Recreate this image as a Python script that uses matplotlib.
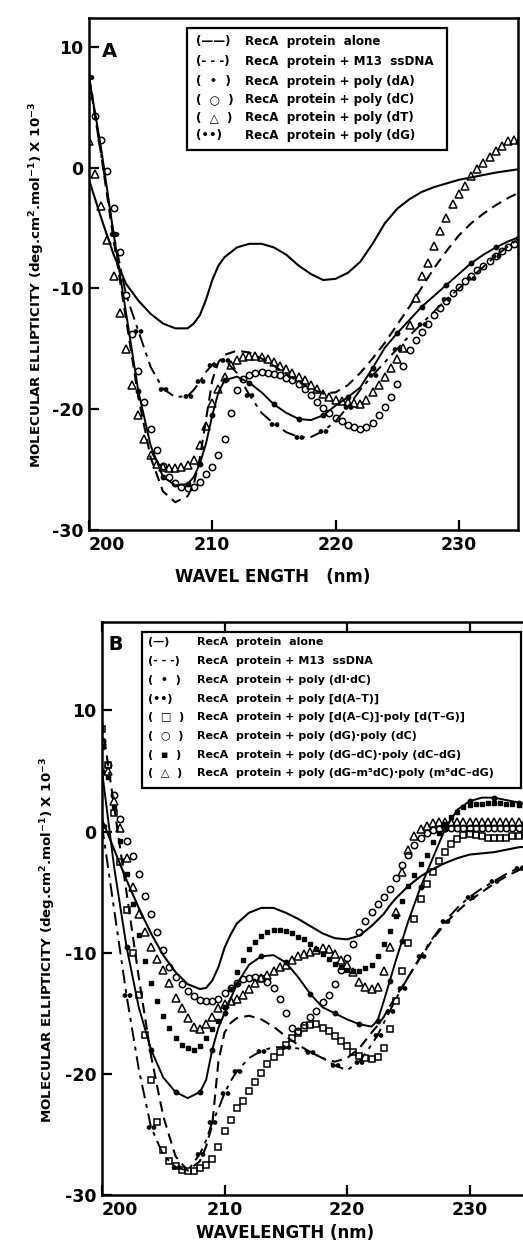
import numpy as np
import matplotlib
matplotlib.use('Agg')
import matplotlib.pyplot as plt
from matplotlib.path import Path
from matplotlib.patches import Rectangle

plt.rcParams['axes.unicode_minus'] = False
plt.rcParams['font.family'] = ['DejaVu Sans']
plt.rcParams['mathtext.fontset'] = 'dejavusans'

# ---------------- Panel A data (wavelength nm, ellipticity x 1e-3) ----------------
A_WL = [200, 201, 202, 203, 204, 205, 206, 207, 208, 208.5, 209, 209.5, 210, 210.5, 211,
        212, 213, 214, 215, 216, 217, 218, 219, 220, 221, 222, 223, 224, 225, 226, 227,
        228, 229, 230, 231, 232, 233, 234, 235]
A_alone = [-1.0, -4.2, -7.2, -9.6, -11.0, -12.1, -12.9, -13.3, -13.3, -12.9, -12.2, -10.9, -9.3, -8.1, -7.4,
           -6.6, -6.3, -6.3, -6.6, -7.2, -8.1, -8.8, -9.3, -9.2, -8.7, -7.8, -6.3, -4.6, -3.4, -2.6, -2.0,
           -1.6, -1.3, -1.0, -0.8, -0.6, -0.4, -0.25, -0.1]
A_m13 = [7.5, 1.0, -6.0, -12.5, -19.0, -24.0, -26.8, -27.7, -27.2, -26.2, -24.0, -20.8, -17.6, -16.1, -15.5,
         -15.15, -15.3, -15.8, -16.4, -17.1, -17.7, -18.3, -18.7, -18.6, -18.0, -17.0, -15.8, -14.5, -13.0, -11.5, -9.9,
         -8.3, -6.9, -5.6, -4.6, -3.8, -3.1, -2.5, -2.0]
A_dA = [7.5, 1.5, -5.5, -12.0, -18.5, -23.0, -25.6, -26.3, -26.2, -25.6, -24.5, -22.8, -20.5, -18.6, -17.6,
        -17.3, -17.8, -18.6, -19.6, -20.3, -20.8, -20.9, -20.5, -19.7, -19.0, -18.2, -16.6, -14.9, -13.7, -12.6, -11.5,
        -10.6, -9.7, -8.8, -7.9, -7.2, -6.6, -6.1, -5.7]
A_dG = [7.5, 1.0, -5.5, -10.5, -13.5, -16.5, -18.3, -19.0, -18.9, -18.4, -17.7, -16.9, -16.3, -15.9, -15.9,
        -17.0, -18.8, -20.3, -21.2, -21.9, -22.3, -22.3, -21.8, -21.0, -19.8, -18.4, -17.2, -16.1, -15.0, -13.9, -12.9,
        -11.9, -10.9, -10.0, -9.1, -8.2, -7.3, -6.5, -5.8]

# marker series, sampled every 0.5 nm from 200 to 235
WL_HALF = np.arange(200, 235.01, 0.5)
A_dC = [6.0, 4.3, 2.3, -0.3, -3.3, -7.0, -10.5, -13.8, -16.8, -19.4, -21.6, -23.4, -24.7, -25.6, -26.1, -26.4,
        -26.5, -26.4, -26.0, -25.4, -24.8, -23.8, -22.5, -20.3, -18.4, -17.5, -17.2, -17.0, -16.9, -17.0, -17.1, -17.2,
        -17.4, -17.6, -17.9, -18.3, -18.8, -19.4, -19.9, -20.3, -20.7, -21.0, -21.3, -21.5, -21.6, -21.5, -21.1, -20.5,
        -19.8, -19.0, -17.9, -16.4, -15.1, -14.3, -13.6, -12.9, -12.2, -11.6, -11.0, -10.4, -9.9, -9.4, -9.0, -8.5,
        -8.1, -7.7, -7.3, -6.9, -6.6, -6.3, -6.0]
A_dT = [2.2, -0.5, -3.2, -6.0, -9.0, -12.0, -15.0, -18.0, -20.5, -22.5, -23.8, -24.5, -24.8, -24.9, -24.9, -24.8,
        -24.6, -24.2, -23.0, -21.4, -19.5, -18.3, -17.3, -16.3, -15.9, -15.7, -15.6, -15.6, -15.7, -15.8, -16.1, -16.4,
        -16.7, -17.0, -17.3, -17.6, -18.0, -18.3, -18.7, -19.0, -19.2, -19.3, -19.4, -19.5, -19.6, -19.2, -18.6, -18.0,
        -17.3, -16.6, -15.8, -14.9, -13.0, -10.8, -9.0, -7.9, -6.5, -5.2, -4.2, -3.0, -2.2, -1.5, -0.7, -0.1,
        0.4, 0.9, 1.4, 1.8, 2.2, 2.3, 2.4]

# ---------------- Panel B data ----------------
B_WL = [200, 201, 202, 203, 204, 205, 206, 207, 208, 208.5, 209, 209.5, 210, 210.5, 211,
        212, 213, 214, 215, 216, 217, 218, 219, 220, 221, 222, 222.5, 223, 223.5, 224, 224.5,
        225, 226, 227, 228, 229, 230, 231, 232, 233, 234, 235]
B_alone = [1.0, -1.5, -4.0, -6.3, -8.4, -10.2, -11.6, -12.6, -13.0, -12.9, -12.3, -11.2, -9.6, -8.5, -7.6,
           -6.7, -6.3, -6.3, -6.7, -7.2, -7.8, -8.4, -8.8, -8.9, -8.6, -7.8, -7.3, -6.8, -6.1, -5.5, -5.0,
           -4.5, -3.7, -3.1, -2.6, -2.2, -1.9, -1.8, -1.7, -1.5, -1.3, -1.2]
B_m13 = [9.0, 2.0, -5.0, -12.0, -18.5, -23.5, -26.8, -28.0, -27.2, -26.0, -24.2, -19.0, -16.6, -15.8, -15.4,
         -15.2, -15.5, -16.1, -16.9, -17.6, -18.2, -18.7, -19.0, -18.7, -17.9, -16.6, -16.0, -15.3, -14.4, -13.6, -12.8,
         -12.0, -10.4, -8.9, -7.6, -6.6, -5.7, -5.0, -4.3, -3.7, -3.2, -2.7]
B_dIdC = [5.0, -3.0, -9.5, -14.5, -18.0, -20.3, -21.5, -22.0, -21.5, -20.5, -18.0, -16.2, -15.0, -13.8, -12.6,
          -11.0, -10.3, -10.2, -10.8, -12.0, -13.4, -14.5, -15.0, -15.5, -15.9, -16.1, -15.6, -14.0, -12.3, -10.6, -9.0,
          -7.4, -4.6, -2.2, 0.2, 1.8, 2.5, 2.8, 2.8, 2.6, 2.4, 2.2]
B_dAT = [0.5, -6.5, -13.5, -19.6, -24.4, -26.7, -27.7, -28.0, -26.6, -25.5, -24.0, -22.9, -21.6, -20.6, -19.8,
         -18.7, -18.1, -17.8, -17.8, -17.9, -18.2, -18.7, -19.3, -19.7, -19.0, -17.6, -16.8, -15.8, -14.8, -13.8, -12.9,
         -12.0, -10.3, -8.8, -7.4, -6.3, -5.4, -4.7, -4.1, -3.5, -3.0, -2.6]

B_ACTG = [8.5, 5.5, 1.5, -2.5, -6.5, -10.0, -13.5, -16.8, -20.5, -24.0, -26.3, -27.2, -27.6, -27.9, -28.0, -28.0,
          -27.8, -27.5, -27.0, -26.0, -24.7, -23.8, -22.8, -22.2, -21.4, -20.7, -19.9, -19.2, -18.6, -18.2, -17.6, -17.0,
          -16.6, -16.2, -16.0, -15.9, -16.2, -16.5, -16.9, -17.3, -17.7, -18.2, -18.5, -18.7, -18.8, -18.6, -17.9, -16.3,
          -14.0, -11.5, -9.2, -7.2, -5.6, -4.3, -3.3, -2.4, -1.7, -1.0, -0.6, -0.3, -0.2, -0.3, -0.4, -0.5,
          -0.5, -0.5, -0.5, -0.4, -0.4, -0.3, -0.3]
B_dGdC = [7.5, 5.5, 3.0, 1.0, -0.8, -2.0, -3.5, -5.3, -6.8, -8.3, -9.8, -11.2, -12.0, -12.6, -13.2, -13.6,
          -13.9, -14.0, -14.0, -13.8, -13.3, -12.9, -12.5, -12.2, -12.1, -12.0, -12.1, -12.4, -12.9, -13.8, -15.0, -16.2,
          -16.5, -16.0, -15.3, -14.8, -14.1, -13.5, -12.6, -11.4, -10.4, -9.3, -8.3, -7.4, -6.6, -6.0, -5.4, -4.7,
          -3.8, -2.8, -1.9, -1.1, -0.5, -0.1, 0.1, 0.2, 0.3, 0.3, 0.3, 0.3, 0.3, 0.3, 0.3, 0.3,
          0.3, 0.3, 0.3, 0.3, 0.3, 0.3, 0.3]
B_alt = [7.0, 4.5, 2.0, -0.8, -3.5, -6.0, -8.5, -10.7, -12.5, -14.0, -15.2, -16.2, -17.0, -17.6, -17.9, -18.0,
         -17.7, -17.0, -16.3, -15.6, -14.5, -13.0, -11.6, -10.6, -9.7, -9.1, -8.6, -8.3, -8.1, -8.1, -8.2, -8.4,
         -8.7, -8.9, -9.3, -9.7, -10.1, -10.5, -10.9, -11.2, -11.4, -11.5, -11.5, -11.3, -11.0, -10.3, -9.3, -8.2,
         -7.0, -5.7, -4.5, -3.6, -2.7, -1.9, -0.9, -0.1, 0.6, 1.2, 1.6, 2.0, 2.2, 2.3, 2.3, 2.4,
         2.4, 2.4, 2.3, 2.3, 2.2, 2.1, 2.0]
B_m5 = [7.5, 5.0, 2.5, 0.3, -2.2, -4.6, -6.8, -8.3, -9.5, -10.5, -11.4, -12.5, -13.7, -14.6, -15.4, -16.1,
        -16.3, -15.9, -15.3, -14.6, -14.2, -14.0, -13.8, -13.5, -13.0, -12.5, -12.1, -11.8, -11.5, -11.2, -11.0, -10.6,
        -10.3, -10.1, -9.9, -9.8, -9.6, -9.7, -10.1, -10.6, -11.0, -11.6, -12.4, -12.8, -13.0, -12.8, -11.5, -9.5,
        -6.6, -3.3, -1.5, -0.4, 0.2, 0.5, 0.7, 0.8, 0.8, 0.8, 0.8, 0.8, 0.8, 0.8, 0.8, 0.8,
        0.8, 0.8, 0.8, 0.8, 0.8, 0.8, 0.8]

A_legend_sym = ['(\u2014\u2014)', '(- - -)', '(  \u2022  )', '(  \u25cb  )', '(  \u25b3  )', '(\u2022\u2022)']
A_legend_txt = ['RecA  protein  alone', 'RecA  protein + M13  ssDNA', 'RecA  protein + poly (dA)',
                'RecA  protein + poly (dC)', 'RecA  protein + poly (dT)', 'RecA  protein + poly (dG)']
B_legend_sym = ['(\u2014)', '(- - -)', '(  \u2022  )', '(\u2022\u2022)', '(  \u25a1  )', '(  \u25cb  )',
                '(  \u25aa  )', '(  \u25b3  )']
B_legend_txt = ['RecA  protein  alone', 'RecA  protein + M13  ssDNA', 'RecA  protein + poly (dI\u00b7dC)',
                'RecA  protein + poly [d(A\u2013T)]', 'RecA  protein + poly [d(A\u2013C)]\u00b7poly [d(T\u2013G)]',
                'RecA  protein + poly (dG)\u00b7poly (dC)', 'RecA  protein + poly (dG\u2013dC)\u00b7poly (dC\u2013dG)',
                'RecA  protein + poly (dG\u2013m\u2075dC)\u00b7poly (m\u2075dC\u2013dG)']

W, H = 523, 1245
fig = plt.figure(figsize=(W / 100, H / 100), dpi=100)


def fx(px):
    return px / W


def fy(py):
    return 1 - py / H


# two dots side by side, for the (..) series
DDOT = Path.make_compound_path(Path.circle((-1.2, 0), 0.8), Path.circle((1.2, 0), 0.8))
DASH = (0, (5, 3))
DASHDOT = (0, (7, 3, 2, 3))


def style_axes(ax, xlim, ylim):
    ax.set_xlim(*xlim)
    ax.set_ylim(*ylim)
    ax.set_xticks([200, 210, 220, 230])
    ax.set_yticks([10, 0, -10, -20, -30])
    ax.tick_params(direction='in', length=7, width=1.6, labelsize=12.5, pad=4)
    for lab in ax.get_xticklabels() + ax.get_yticklabels():
        lab.set_fontweight('bold')
    # first x label sits right of the corner, as in the print
    ax.xaxis.get_major_ticks()[0].label1.set_horizontalalignment('left')
    for sp in ax.spines.values():
        sp.set_linewidth(1.8)


def legend_box(x0, y0, x1, y1, ys, sym_x, txt_x, syms, txts, fs):
    fig.patches.append(Rectangle((fx(x0), fy(y1)), fx(x1) - fx(x0), fy(y0) - fy(y1),
                                 transform=fig.transFigure, fc='white', ec='black', lw=1.6, zorder=5))
    for y, s, t in zip(ys, syms, txts):
        fig.text(fx(sym_x), fy(y), s, fontsize=fs, fontweight='bold', va='center', ha='left', zorder=6)
        fig.text(fx(txt_x), fy(y), t, fontsize=fs, fontweight='bold', va='center', ha='left', zorder=6)


# ---------------- Panel A ----------------
axA = fig.add_axes([fx(89), fy(530), fx(518) - fx(89), fy(18) - fy(530)])
axA.plot(A_WL, A_alone, color='black', lw=1.5)
axA.plot(A_WL, A_m13, color='black', lw=1.5, ls=DASH)
axA.plot(A_WL, A_dA, color='black', lw=1.4, marker='o', ms=3.2, markevery=2)
axA.plot(A_WL, A_dG, color='black', lw=1.4, ls=DASHDOT, marker=DDOT, ms=6, markevery=2)
axA.plot(WL_HALF, A_dC, ls='none', marker='o', ms=4.6, mfc='none', mec='black', mew=1.1)
axA.plot(WL_HALF, A_dT, ls='none', marker='^', ms=5.2, mfc='none', mec='black', mew=1.1)
style_axes(axA, (200, 234.8), (-30, 12.4))
axA.text(0.03, 0.935, 'A', transform=axA.transAxes, fontsize=14, fontweight='bold', va='center')

legend_box(187, 28, 447, 150, [42, 62, 81, 100, 118, 135], 196, 245,
           A_legend_sym, A_legend_txt, 8.6)

fig.text(fx(37), fy(285), r'MOLECULAR ELLIPTICITY (deg.cm$^{\mathbf{2}}$.mol$^{\mathbf{-1}}$) X 10$^{\mathbf{-3}}$',
         rotation=90, fontsize=9.6, fontweight='bold', ha='center', va='center')
fig.text(fx(273), fy(577), 'WAVEL ENGTH   (nm)', fontsize=12, fontweight='bold', ha='center', va='center')

# ---------------- Panel B ----------------
axB = fig.add_axes([fx(102), fy(1195), fx(523) - fx(102), fy(622) - fy(1195)])
axB.plot(B_WL, B_alone, color='black', lw=1.5)
axB.plot(B_WL, B_m13, color='black', lw=1.5, ls=DASH)
axB.plot(B_WL, B_dIdC, color='black', lw=1.4, marker='o', ms=3.2, markevery=2)
axB.plot(B_WL, B_dAT, color='black', lw=1.4, ls=DASHDOT, marker=DDOT, ms=6, markevery=2)
axB.plot(WL_HALF, B_ACTG, ls='none', marker='s', ms=4.0, mfc='none', mec='black', mew=1.1)
axB.plot(WL_HALF, B_dGdC, ls='none', marker='o', ms=4.6, mfc='none', mec='black', mew=1.1)
axB.plot(WL_HALF, B_alt, ls='none', marker='s', ms=2.6, color='black')
axB.plot(WL_HALF, B_m5, ls='none', marker='^', ms=5.2, mfc='none', mec='black', mew=1.1)
style_axes(axB, (200, 200 + (523 - 102) / 12.25), (-30, 17.3))
axB.spines['right'].set_visible(False)
axB.tick_params(top=True, direction='in', length=7)
axB.text(0.0, 0.96, ' B', transform=axB.transAxes, fontsize=14, fontweight='bold', va='center')

legend_box(142, 632, 521, 788, [642, 661, 680, 699, 717, 736, 755, 773], 148, 197,
           B_legend_sym, B_legend_txt, 8.0)

fig.text(fx(48), fy(940), r'MOLECULAR ELLIPTICITY (deg.cm$^{\mathbf{2}}$.mol$^{\mathbf{-1}}$) X 10$^{\mathbf{-3}}$',
         rotation=90, fontsize=9.6, fontweight='bold', ha='center', va='center')
fig.text(fx(285), fy(1233), 'WAVELENGTH (nm)', fontsize=12, fontweight='bold', ha='center', va='center')

fig.savefig('out.png', dpi=100, facecolor='white')
